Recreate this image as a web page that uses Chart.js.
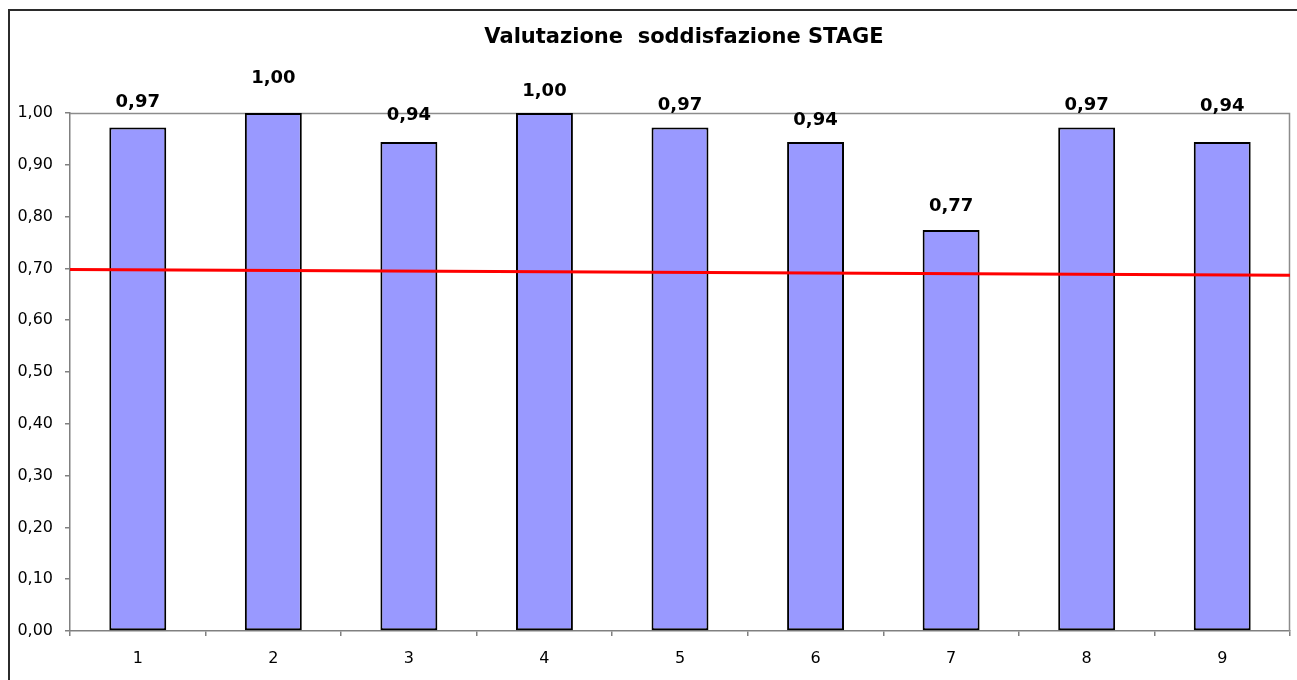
<!DOCTYPE html>
<html>
<head>
<meta charset="utf-8">
<script src="https://cdn.jsdelivr.net/npm/chart.js@4.4.1/dist/chart.umd.min.js"></script>
<style>
  html, body { margin: 0; padding: 0; background: #ffffff; }
  #wrap { position: relative; width: 1297px; height: 680px; }
</style>
</head>
<body>
<div id="wrap"><canvas id="c" width="1297" height="680"></canvas></div>
<script>
// ---- data ----
const chartTitle = 'Valutazione  soddisfazione STAGE';
const categories = ['1', '2', '3', '4', '5', '6', '7', '8', '9'];
const satisfaction = [0.972, 1.00, 0.944, 1.00, 0.972, 0.944, 0.774, 0.972, 0.944];
// reference line: value at the left edge and at the right edge of the plot
const referenceLineY = [0.698, 0.687];
const yTickValues = [0, 0.1, 0.2, 0.3, 0.4, 0.5, 0.6, 0.7, 0.8, 0.9, 1.0];

// label offsets above each bar (style only)
const labelLift = [25, 35, 27, 22, 22, 22, 24, 22, 36];

const fmt = v => v.toFixed(2).replace('.', ',');

const frameAndTitle = {
  id: 'frameAndTitle',
  beforeDraw(chart) {
    const ctx = chart.ctx;
    ctx.save();
    ctx.fillStyle = '#ffffff';
    ctx.fillRect(0, 0, chart.width, chart.height);
    ctx.strokeStyle = '#2b2b2b';
    ctx.lineWidth = 2;
    ctx.strokeRect(9, 10, 1400, 800);
    ctx.restore();
  },
  beforeDatasetsDraw(chart) {
    const ctx = chart.ctx;
    const a = chart.chartArea;
    ctx.save();
    ctx.strokeStyle = '#8c8c8c';
    ctx.lineWidth = 1.5;
    ctx.beginPath();
    ctx.moveTo(a.left, a.top + 0.5);
    ctx.lineTo(a.right - 0.5, a.top + 0.5);
    ctx.lineTo(a.right - 0.5, a.bottom);
    ctx.stroke();
    ctx.restore();
  },
  afterDraw(chart) {
    const ctx = chart.ctx;
    const a = chart.chartArea;
    ctx.save();
    ctx.fillStyle = '#000000';
    ctx.font = 'bold 21px "DejaVu Sans"';
    ctx.textAlign = 'center';
    ctx.textBaseline = 'middle';
    ctx.fillText(chartTitle, (a.left + a.right) / 2 + 4, 38);
    ctx.restore();
  }
};

const referenceLine = {
  id: 'referenceLine',
  afterDatasetsDraw(chart) {
    const ctx = chart.ctx;
    const a = chart.chartArea;
    const ys = chart.scales.y;
    ctx.save();
    ctx.strokeStyle = '#ff0000';
    ctx.lineWidth = 3;
    ctx.beginPath();
    ctx.moveTo(a.left, ys.getPixelForValue(referenceLineY[0]));
    ctx.lineTo(a.right, ys.getPixelForValue(referenceLineY[1]));
    ctx.stroke();
    ctx.restore();
  }
};

const barLabels = {
  id: 'barLabels',
  afterDatasetsDraw(chart) {
    const ctx = chart.ctx;
    const meta = chart.getDatasetMeta(0);
    ctx.save();
    ctx.fillStyle = '#000000';
    ctx.font = 'bold 18px "DejaVu Sans"';
    ctx.textAlign = 'center';
    ctx.textBaseline = 'middle';
    meta.data.forEach((bar, i) => {
      ctx.fillText(fmt(satisfaction[i]), bar.x, bar.y - labelLift[i]);
    });
    ctx.restore();
  }
};

new Chart(document.getElementById('c'), {
  type: 'bar',
  data: {
    labels: categories,
    datasets: [
      {
        data: satisfaction,
        backgroundColor: '#9999ff',
        borderColor: '#000000',
        borderWidth: 2,
        borderSkipped: false,
        categoryPercentage: 1.0,
        barPercentage: 0.42
      }
    ]
  },
  options: {
    responsive: false,
    animation: false,
    layout: { padding: { left: 8, right: 7, top: 113, bottom: 0 } },
    plugins: {
      legend: { display: false },
      title: { display: false },
      tooltip: { enabled: false }
    },
    scales: {
      x: {
        type: 'category',
        offset: true,
        grid: {
          offset: true,
          drawOnChartArea: false,
          drawTicks: true,
          tickLength: 5,
          color: '#808080',
          lineWidth: 1.5
        },
        border: { color: '#808080', width: 1.5 },
        ticks: {
          color: '#000000',
          font: { family: '"DejaVu Sans"', size: 16 },
          padding: 13,
          maxRotation: 0
        },
        afterFit(s) { s.height = 49; }
      },
      y: {
        min: 0,
        max: 1,
        grid: {
          drawOnChartArea: false,
          drawTicks: true,
          tickLength: 5,
          color: '#808080',
          lineWidth: 1.5
        },
        border: { color: '#808080', width: 1.5 },
        afterBuildTicks(s) { s.ticks = yTickValues.map(v => ({ value: v })); },
        ticks: {
          color: '#000000',
          font: { family: '"DejaVu Sans"', size: 16 },
          padding: 12,
          callback: v => fmt(v)
        },
        afterFit(s) { s.width = 62; }
      }
    }
  },
  plugins: [frameAndTitle, referenceLine, barLabels]
});
</script>
</body>
</html>
